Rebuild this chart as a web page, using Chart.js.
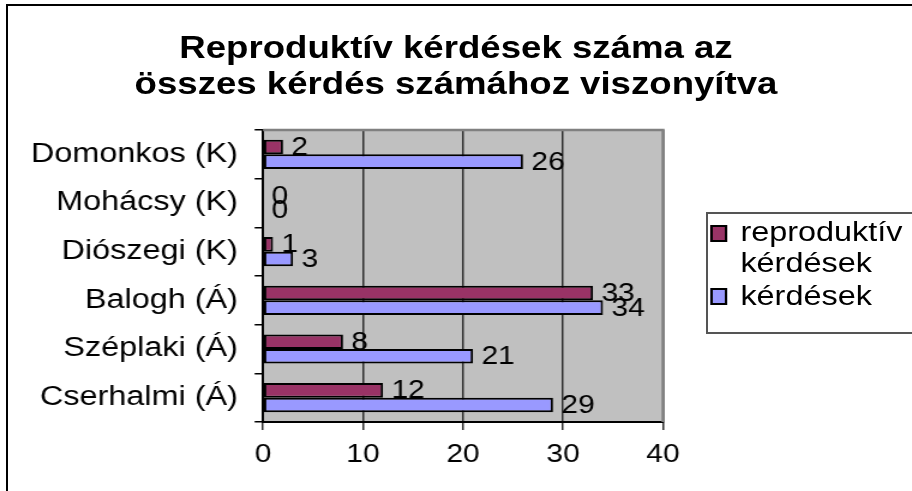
<!DOCTYPE html>
<html>
<head>
<meta charset="utf-8">
<script src="https://cdn.jsdelivr.net/npm/chart.js@4.4.1/dist/chart.umd.min.js"></script>
<style>
    body { margin: 0; background: #fff; overflow: hidden; font-family: "Liberation Sans", Arial, sans-serif; }
    #frame { position: absolute; left: 6px; top: 4px; width: 1000px; height: 1000px; border: 2px solid #000; }
    #wrap { position: absolute; left: 0; top: 0; width: 760px; height: 491px; transform: scaleX(1.2); transform-origin: 0 0; }
    #title { position: absolute; left: 0; top: 29px; width: 760px; text-align: center; font-size: 30.5px; font-weight: bold; line-height: 36px; color: #000; }
    #legendBox { position: absolute; left: 588px; top: 212px; width: 220px; height: 122px; border: 2px solid #555; box-sizing: border-box; }
    .marker { position: absolute; left: 592px; width: 14px; height: 17px; border: 2px solid #000; box-sizing: border-box; }
    .legText { position: absolute; left: 617px; font-size: 27px; line-height: 31px; color: #000; white-space: nowrap; }
</style>
</head>
<body>
<div id="frame"></div>
<div id="wrap">
    <canvas id="chart" width="760" height="491"></canvas>
    <div id="title">Reproduktív kérdések száma az<br>összes kérdés számához viszonyítva</div>
    <div id="legendBox"></div>
    <div class="marker" style="top:225px;background:#993366"></div>
    <div class="legText" style="top:217px">reproduktív<br>kérdések</div>
    <div class="marker" style="top:288px;background:#9999ff"></div>
    <div class="legText" style="top:281px">kérdések</div>
</div>
<script>
const categories = ['Domonkos (K)', 'Mohácsy (K)', 'Diószegi (K)', 'Balogh (Á)', 'Széplaki (Á)', 'Cserhalmi (Á)'];
const reproValues = [2, 0, 1, 33, 8, 12];
const questionValues = [26, 0, 3, 34, 21, 29];
const seriesNames = ['reproduktív kérdések', 'kérdések'];
const xMin = 0, xMax = 40, xStep = 10;

const font = '"Liberation Sans", Arial, sans-serif';

// szürke háttér a rajzterületnek
const plotBg = {
    id: 'plotBg',
    beforeDraw(chart) {
        const {ctx, chartArea: a} = chart;
        ctx.save();
        ctx.fillStyle = '#c0c0c0';
        ctx.fillRect(a.left, a.top, a.width, a.height);
        ctx.restore();
    }
};

// keret + értékfeliratok
const barLabels = {
    id: 'barLabels',
    afterDatasetsDraw(chart) {
        const {ctx, chartArea: a} = chart;
        ctx.save();
        ctx.strokeStyle = '#808080';
        ctx.lineWidth = 2.5;
        ctx.beginPath();
        ctx.moveTo(a.left, a.top);
        ctx.lineTo(a.right, a.top);
        ctx.lineTo(a.right, a.bottom);
        ctx.stroke();

        ctx.fillStyle = '#000';
        ctx.font = '25px ' + font;
        ctx.textAlign = 'left';
        ctx.textBaseline = 'middle';
        chart.data.datasets.forEach((ds, i) => {
            chart.getDatasetMeta(i).data.forEach((bar, j) => {
                ctx.fillText(String(ds.data[j]), bar.x + 7, bar.y + 1);
            });
        });
        ctx.restore();
    }
};

new Chart(document.getElementById('chart').getContext('2d'), {
    type: 'bar',
    data: {
        labels: categories,
        datasets: [
            {label: seriesNames[0], data: reproValues, backgroundColor: '#993366', borderColor: '#000', borderWidth: 2, borderSkipped: false},
            {label: seriesNames[1], data: questionValues, backgroundColor: '#9999ff', borderColor: '#000', borderWidth: 2, borderSkipped: false}
        ]
    },
    options: {
        indexAxis: 'y',
        responsive: false,
        animation: false,
        categoryPercentage: 0.6,
        barPercentage: 1,
        layout: {padding: {left: 0, right: 207.5, top: 130, bottom: 0}},
        plugins: {
            legend: {display: false},
            tooltip: {enabled: false},
            title: {display: false}
        },
        scales: {
            x: {
                min: xMin,
                max: xMax,
                ticks: {stepSize: xStep, color: '#000', font: {family: font, size: 25}, padding: 10},
                grid: {color: '#303030', lineWidth: 1.5, tickLength: 8, drawTicks: true},
                border: {display: true, color: '#000', width: 2},
                afterFit(scale) { scale.height = 69; }
            },
            y: {
                ticks: {color: '#000', font: {family: font, size: 27}, padding: 14},
                grid: {offset: true, drawOnChartArea: false, drawTicks: true, tickLength: 7, color: '#000', lineWidth: 1.5},
                border: {display: true, color: '#000', width: 2},
                afterFit(scale) { scale.width = 219.2; }
            }
        }
    },
    plugins: [plotBg, barLabels]
});
</script>
</body>
</html>
